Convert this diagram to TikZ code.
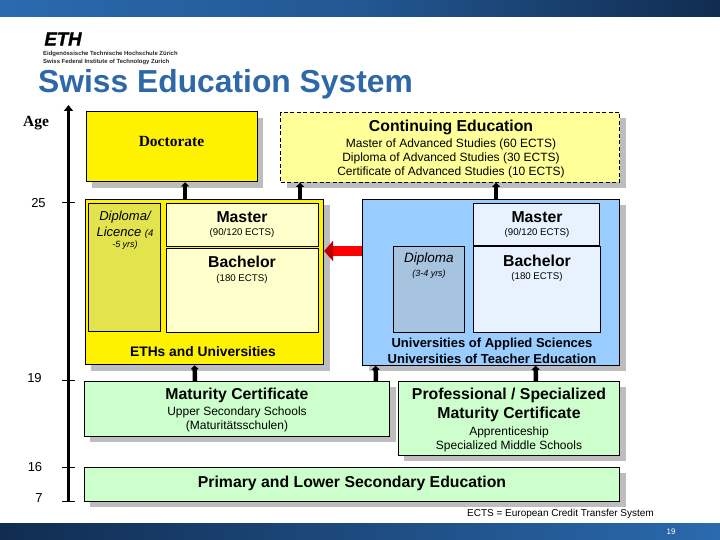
\documentclass[tikz,border=0pt]{standalone}
\usepackage{fontspec}
\setmainfont{Liberation Sans}
\newfontfamily\serifface{Liberation Serif}
\usetikzlibrary{arrows.meta,positioning,shadows,calc}
\definecolor{ethblue}{HTML}{2E68A8}
\definecolor{navy}{HTML}{102C50}
\definecolor{barblue}{HTML}{2A6AAE}
\definecolor{shadowgray}{HTML}{BDBDBD}
\definecolor{palered}{HTML}{FFFF99}
\definecolor{lemon}{HTML}{FFFFCC}
\definecolor{olive}{HTML}{E3E34D}
\definecolor{skyblue}{HTML}{99CCFF}
\definecolor{iceblue}{HTML}{E8F2FF}
\definecolor{steel}{HTML}{A6C4E0}
\definecolor{mint}{HTML}{CCFFCC}

\begin{document}
\begin{tikzpicture}[
    x=1pt,y=-1pt,
    panel/.style={rectangle,draw=black,line width=0.9pt,anchor=north west,inner sep=0pt,align=center,xshift=-0.8pt,yshift=0.6pt,
        drop shadow={shadow xshift=6pt,shadow yshift=-6pt,fill=shadowgray,opacity=1}},
    inbox/.style={rectangle,draw=black,line width=0.8pt,anchor=north west,inner sep=0pt,align=center,xshift=-0.8pt,yshift=0.6pt},
    head/.style={font=\fontsize{15.8}{18}\selectfont\bfseries},
    sub/.style={font=\fontsize{12}{14.2}\selectfont,align=center},
    small sub/.style={font=\fontsize{9.7}{11}\selectfont},
    tick/.style={line width=1pt},
    age/.style={font=\fontsize{13}{14}\selectfont},
    uparrow/.style={-{Triangle[length=4pt,width=8pt]},line width=4.5pt,black}
]
\useasboundingbox (0,0) rectangle (720,540);

% Bars
\shade[left color=barblue,right color=barblue!70!navy] (0,0) rectangle (360,17);
\shade[left color=barblue!70!navy,right color=navy] (360,0) rectangle (720,17);
\shade[left color=navy,right color=barblue] (0,523) rectangle (720,540);
\node[text=white,font=\fontsize{8}{9}\selectfont] (pagenum) at (671,531.5) {19};

% Logo and title
\node[font=\fontsize{18.5}{18}\selectfont\bfseries\itshape\addfontfeatures{FakeBold=1.5},inner sep=0pt] (logo) at (63,39) {ETH};
\node[font=\fontsize{5.95}{8.8}\selectfont\bfseries,align=left,anchor=north west,inner sep=0pt,text=black!85] (logotext) at (43,50.5) {Eidgenössische Technische Hochschule Zürich\\Swiss Federal Institute of Technology Zurich};
\node[font=\fontsize{31.8}{34}\selectfont\bfseries,text=ethblue,anchor=base west,inner sep=0pt] (title) at (38,93) {Swiss Education System};

% Age axis
\coordinate (axisbot) at (68.5,501.5);
\coordinate (axistop) at (68.5,105);
\draw[-{Triangle[length=6pt,width=9pt]},line width=3.8pt] (axisbot) -- (axistop);
\foreach \val/\ypos/\xpos/\ylab in {25/203/38.5/203,19/380/34.5/378.5,16/467/35/467,7/501.5/39/498}{
    \coordinate (tick\val) at (68.5,\ypos);
    \draw[tick] ([xshift=-6.5pt]tick\val) -- ([xshift=6.5pt]tick\val);
    \node[age] (agelabel\val) at (\xpos,\ylab) {\val};
}
\node[font=\fontsize{15.5}{16}\selectfont\bfseries\serifface] (agetitle) at (36,123) {Age};

% Top row
\node[panel,fill=yellow,minimum width=171pt,minimum height=70pt] (doctorate) at (86.5,112) {};
\node[font=\fontsize{15.5}{18}\selectfont\bfseries\serifface] (doctext) at (171.5,142) {Doctorate};
\node[panel,fill=palered,dash pattern=on 4pt off 2.5pt,minimum width=339pt,minimum height=70pt] (continuing) at (281,112.5) {};
\node[head] (conttitle) at (451,127.5) {Continuing Education};
\node[sub] (conttext) at (451,158.3) {Master of Advanced Studies (60 ECTS)\\Diploma of Advanced Studies (30 ECTS)\\Certificate of Advanced Studies (10 ECTS)};

% ETH block
\node[panel,fill=yellow,minimum width=238.5pt,minimum height=165.5pt] (ethbox) at (85.5,199.5) {};
\node[inbox,fill=olive,minimum width=72.5pt,minimum height=128pt] (ethdiploma) at (88.5,203.5) {};
\node[inbox,fill=lemon,minimum width=152pt,minimum height=43pt] (ethmaster) at (166.5,203.5) {};
\node[inbox,fill=lemon,minimum width=152pt,minimum height=84pt] (ethbachelor) at (166.5,248.5) {};
\node[font=\fontsize{13}{16}\selectfont\itshape,align=center] (ethdiptext) at (125,225) {Diploma/\\Licence {\fontsize{9.5}{11}\selectfont(4}};
\node[font=\fontsize{9}{11}\selectfont\itshape] (ethdipyrs) at (125,245) {-5 yrs)};
\node[head] (ethmastertext) at (242,217.5) {Master};
\node[small sub] (ethmasterects) at (242,232.5) {(90/120 ECTS)};
\node[head] (ethbachtext) at (242,261.5) {Bachelor};
\node[small sub] (ethbachects) at (242,278.5) {(180 ECTS)};
\node[font=\fontsize{13.8}{16}\selectfont\bfseries] (ethname) at (203,352) {ETHs and Universities};

% Blue block
\node[panel,fill=skyblue,minimum width=257pt,minimum height=166pt] (uasbox) at (363,199.5) {};
\node[inbox,fill=steel,minimum width=71pt,minimum height=85.5pt] (uasdiploma) at (393.5,247) {};
\node[inbox,fill=iceblue,minimum width=126pt,minimum height=42.5pt] (uasmaster) at (473.5,203.5) {};
\node[inbox,fill=iceblue,minimum width=127pt,minimum height=85.5pt] (uasbachelor) at (473.5,247) {};
\node[font=\fontsize{13.5}{14}\selectfont\itshape] (uasdiptext) at (429,259.5) {Diploma};
\node[font=\fontsize{9}{11}\selectfont\itshape] (uasdipyrs) at (429,274) {(3-4 yrs)};
\node[head] (uasmastertext) at (537,217.5) {Master};
\node[small sub] (uasmasterects) at (537,232.5) {(90/120 ECTS)};
\node[head] (uasbachtext) at (537,261) {Bachelor};
\node[small sub] (uasbachects) at (537,277) {(180 ECTS)};
\node[font=\fontsize{13}{16}\selectfont\bfseries,align=center] (uasname) at (492,350.5) {Universities of Applied Sciences\\Universities of Teacher Education};

% Bottom rows
\node[panel,fill=mint,minimum width=305.5pt,minimum height=55pt] (maturity) at (84.5,381.5) {};
\node[head] (mattitle) at (237,395.5) {Maturity Certificate};
\node[sub] (mattext) at (237,419.3) {Upper Secondary Schools\\(Maturitätsschulen)};
\node[panel,fill=mint,minimum width=221.5pt,minimum height=74pt] (profcert) at (398.5,381.5) {};
\node[head,align=center,font=\fontsize{15.8}{19}\selectfont\bfseries] (proftitle) at (509,405) {Professional / Specialized\\Maturity Certificate};
\node[sub] (proftext) at (509,439) {Apprenticeship\\Specialized Middle Schools};
\node[panel,fill=mint,minimum width=535.5pt,minimum height=34pt] (primary) at (84.5,467.5) {};
\node[head] (primtext) at (352,483) {Primary and Lower Secondary Education};
\node[font=\fontsize{10}{11}\selectfont] (ectsnote) at (560.5,514) {ECTS = European Credit Transfer System};

% Arrows
\draw[uparrow] ([xshift=-19.25pt]ethbox.north) -- ([xshift=13.5pt]doctorate.south);
\draw[uparrow] ([xshift=95.75pt]ethbox.north) -- ([xshift=-150pt]continuing.south);
\draw[uparrow] ([xshift=5pt]uasbox.north) -- ([xshift=46pt]continuing.south);
\draw[uparrow] ([xshift=-42pt]maturity.north) -- ([xshift=-9.75pt]ethbox.south);
\draw[uparrow] ([xshift=139pt]maturity.north) -- ([xshift=-115.5pt]uasbox.south);
\draw[uparrow] ([xshift=27pt]profcert.north) -- ([xshift=44.5pt]uasbox.south);

% Red arrow
\draw[-{Triangle[length=9pt,width=20pt,color=red!75!black]},line width=10pt,red] (uasbox.west |- 0,251) -- (ethbox.east |- 0,251);
\end{tikzpicture}
\end{document}
